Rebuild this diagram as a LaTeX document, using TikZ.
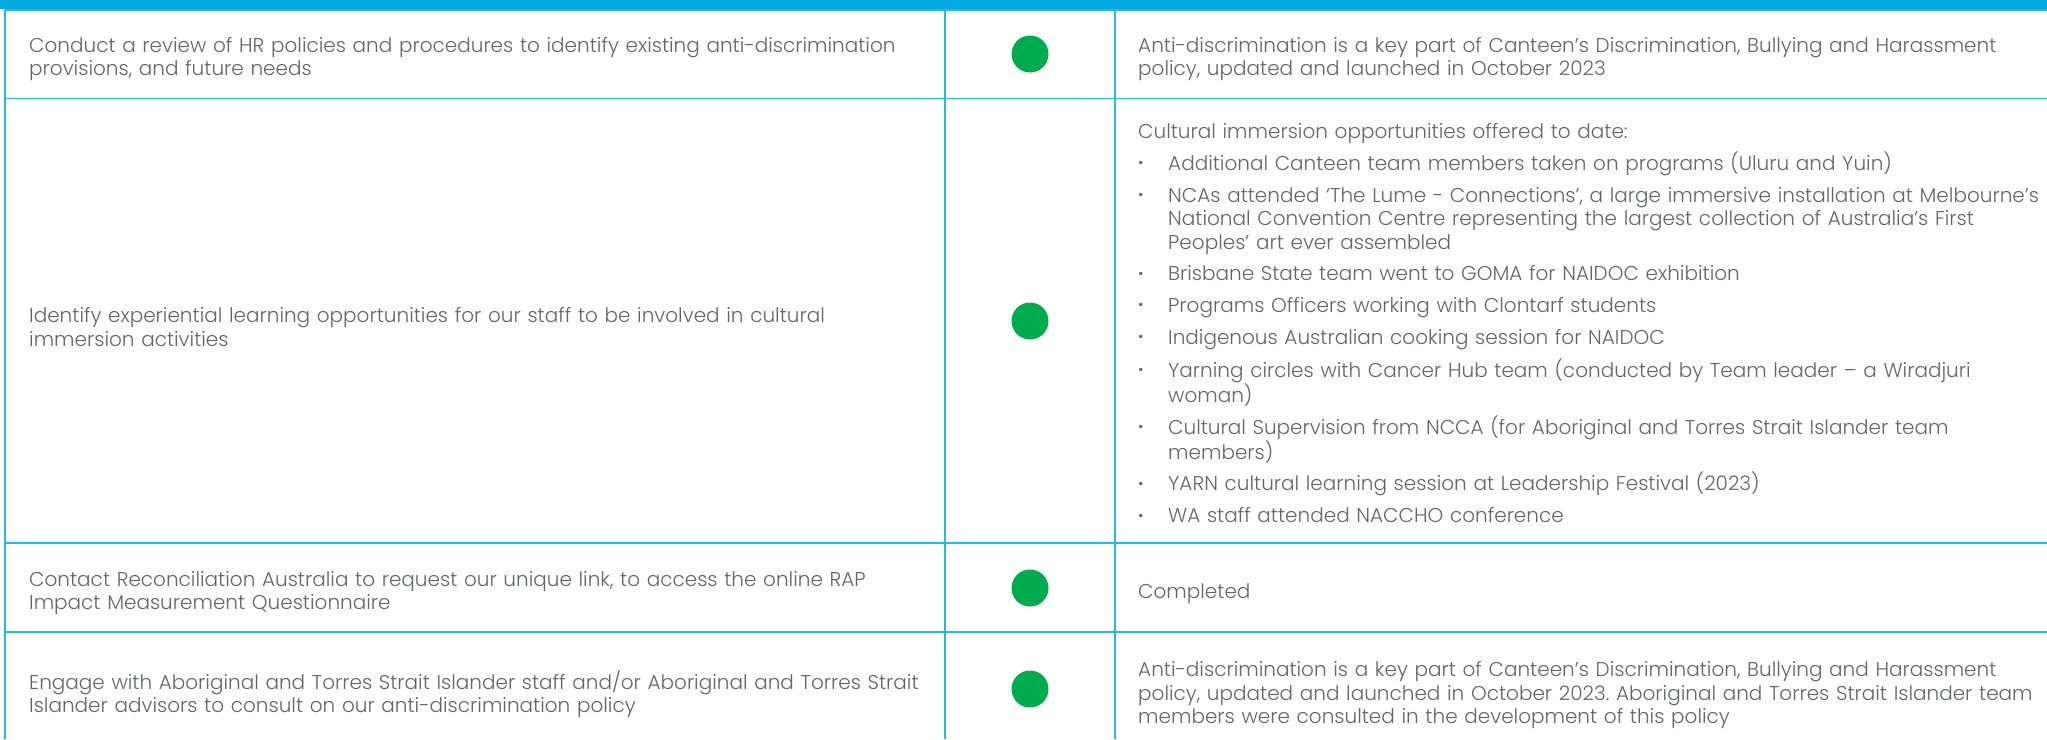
\documentclass[tikz,border=0pt]{standalone}
\usepackage{fontspec}
\setmainfont{Poppins}[UprightFont={* Light}]
\usetikzlibrary{positioning}
\definecolor{headblue}{RGB}{0,169,224}
\definecolor{gridblue}{RGB}{40,184,232}
\definecolor{dotgreen}{RGB}{0,170,79}
\definecolor{textgray}{RGB}{100,101,104}
\frenchspacing
\newcommand{\celltext}{\fontsize{20}{23.5}\selectfont}
\newcommand{\listdot}{\raisebox{0.5pt}{\textbf{\textperiodcentered}}}
\newenvironment{dotlist}{\begin{list}{\listdot}{%
  \setlength{\leftmargin}{30pt}\setlength{\labelwidth}{28pt}%
  \setlength{\labelsep}{2pt}\setlength{\itemsep}{8.2pt}%
  \setlength{\parsep}{0pt}\setlength{\topsep}{7pt}%
  \setlength{\partopsep}{0pt}\def\makelabel##1{##1\hfil}}}{\end{list}}

\begin{document}
\begin{tikzpicture}[x=1pt,y=-1pt,
    cell/.style={anchor=west,inner sep=0pt,text width=1000pt,align=left,
      font=\celltext,text=textgray},
    status/.style={circle,fill=dotgreen,minimum size=37pt,inner sep=0pt},
    rule/.style={gridblue,line width=1.8pt}]
  \useasboundingbox (0,0) rectangle (2047,739);
  % header band and grid
  \fill[headblue] (0,0) rectangle (2047,9);
  \foreach \y in {10,98.5,543,632}
    \draw[rule] (5,\y) -- (2047,\y);
  \foreach \x in {5,945,1115}
    \draw[rule] (\x,10) -- (\x,739);

  % status dots
  \node[status] (dot1) at (1030,54) {};
  \node[status] (dot2) at (1030,321) {};
  \node[status] (dot3) at (1030,588) {};
  \node[status] (dot4) at (1030,689) {};

  % actions
  \node[cell] (act1) at (29,59) {Conduct a review of HR policies and procedures to identify existing anti-discrimination\\provisions, and future needs};
  \node[cell] (act2) at (29,327) {Identify experiential learning opportunities for our staff to be involved in cultural\\immersion activities};
  \node[cell] (act3) at (29,593) {Contact Reconciliation Australia to request our unique link, to access the online RAP\\Impact Measurement Questionnaire};
  \node[cell] (act4) at (29,694) {Engage with Aboriginal and Torres Strait Islander staff and/or Aboriginal and Torres Strait\\Islander advisors to consult on our anti-discrimination policy};

  % progress notes
  \node[cell] (note1) at (1138,59) {Anti-discrimination is a key part of Canteen’s Discrimination, Bullying and Harassment\\policy, updated and launched in October 2023};
  \node[cell] (note2) at (1138,323) {Cultural immersion opportunities offered to date:
    \begin{dotlist}
    \item Additional Canteen team members taken on programs (Uluru and Yuin)
    \item NCAs attended ‘The Lume - Connections’, a large immersive installation at Melbourne’s\\National Convention Centre representing the largest collection of Australia’s First\\Peoples’ art ever assembled
    \item Brisbane State team went to GOMA for NAIDOC exhibition
    \item Programs Officers working with Clontarf students
    \item Indigenous Australian cooking session for NAIDOC
    \item Yarning circles with Cancer Hub team (conducted by Team leader – a Wiradjuri\\woman)
    \item Cultural Supervision from NCCA (for Aboriginal and Torres Strait Islander team\\members)
    \item YARN cultural learning session at Leadership Festival (2023)
    \item WA staff attended NACCHO conference
    \end{dotlist}};
  \node[cell] (note3) at (1138,594) {Completed};
  \node[cell] (note4) at (1138,695) {Anti-discrimination is a key part of Canteen’s Discrimination, Bullying and Harassment\\policy, updated and launched in October 2023. Aboriginal and Torres Strait Islander team\\members were consulted in the development of this policy};
\end{tikzpicture}
\end{document}
